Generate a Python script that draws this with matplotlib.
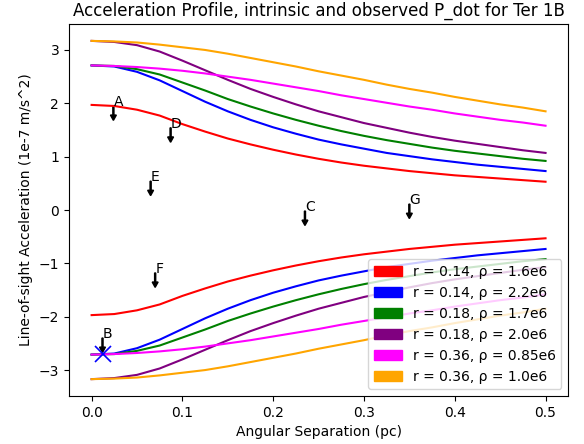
import matplotlib
matplotlib.use("Agg")
import matplotlib.pyplot as plt
import matplotlib.patches as mpatches
import numpy as np

# separation grid (pc) the curves were read at
sep = [0.0, 0.025, 0.05, 0.075, 0.1, 0.125, 0.15, 0.175, 0.2, 0.225, 0.25,
       0.275, 0.3, 0.325, 0.35, 0.375, 0.4, 0.425, 0.45, 0.475, 0.5]

# upper (positive) branch of each profile, 1e-7 m/s^2
acc_r014_p16 = [1.97, 1.95, 1.88, 1.77, 1.61, 1.47, 1.34, 1.23, 1.13, 1.04, 0.96,
                0.89, 0.83, 0.78, 0.73, 0.69, 0.65, 0.62, 0.59, 0.56, 0.53]
acc_r014_p22 = [2.71, 2.69, 2.59, 2.43, 2.23, 2.03, 1.85, 1.69, 1.55, 1.43, 1.32,
                1.23, 1.15, 1.07, 1.01, 0.95, 0.90, 0.85, 0.81, 0.77, 0.73]
acc_r018_p17 = [2.71, 2.70, 2.64, 2.54, 2.39, 2.24, 2.08, 1.94, 1.81, 1.69, 1.58,
                1.48, 1.39, 1.31, 1.24, 1.17, 1.11, 1.06, 1.01, 0.96, 0.92]
acc_r018_p20 = [3.17, 3.15, 3.09, 2.97, 2.80, 2.62, 2.44, 2.27, 2.12, 1.98, 1.85,
                1.74, 1.63, 1.54, 1.45, 1.37, 1.30, 1.24, 1.18, 1.12, 1.07]
acc_r036_p085 = [2.71, 2.70, 2.68, 2.65, 2.61, 2.56, 2.50, 2.44, 2.37, 2.30, 2.23,
                 2.15, 2.08, 2.01, 1.94, 1.88, 1.81, 1.75, 1.69, 1.64, 1.58]
acc_r036_p10 = [3.17, 3.16, 3.14, 3.10, 3.05, 3.00, 2.93, 2.85, 2.77, 2.69, 2.60,
                2.52, 2.44, 2.35, 2.27, 2.20, 2.12, 2.05, 1.98, 1.92, 1.85]

profiles = [acc_r014_p16, acc_r014_p22, acc_r018_p17,
            acc_r018_p20, acc_r036_p085, acc_r036_p10]
colors = ["red", "blue", "green", "purple", "magenta", "orange"]
labels = ["r = 0.14, ρ = 1.6e6", "r = 0.14, ρ = 2.2e6", "r = 0.18, ρ = 1.7e6",
          "r = 0.18, ρ = 2.0e6", "r = 0.36, ρ = 0.85e6", "r = 0.36, ρ = 1.0e6"]

# observed pulsar P_dot limits
psr_names = ["A", "B", "C", "D", "E", "F", "G"]
psr_sep = [0.024, 0.012, 0.235, 0.087, 0.065, 0.070, 0.350]
psr_acc = [1.95, -2.40, -0.02, 1.54, 0.54, -1.18, 0.11]
star_sep = [0.012]
star_acc = [-2.70]

fig = plt.figure(figsize=(5.84, 4.44), dpi=100)
ax = fig.add_axes([0.118, 0.108, 0.855, 0.838])

s = np.array(sep)
for acc, c in zip(profiles, colors):
    a = np.array(acc)
    ax.plot(s, a, color=c)
    ax.plot(s, -a, color=c)

for name, x, y in zip(psr_names, psr_sep, psr_acc):
    ax.arrow(x, y, 0, -0.27, width=0.0012, head_width=0.0065, head_length=0.1,
             length_includes_head=True, fc="k", ec="k")
    ax.text(x, y, name, fontsize=10)

ax.plot(star_sep, star_acc, "x", color="blue", markersize=12, mew=1.2)

handles = [mpatches.Patch(color=c, label=l) for c, l in zip(colors, labels)]
ax.legend(handles=handles, loc="lower right")

ax.set_title("Acceleration Profile, intrinsic and observed P_dot for Ter 1B")
ax.set_xlabel("Angular Separation (pc)")
ax.set_ylabel("Line-of-sight Acceleration (1e-7 m/s^2)")

fig.savefig("out.png", dpi=100)
